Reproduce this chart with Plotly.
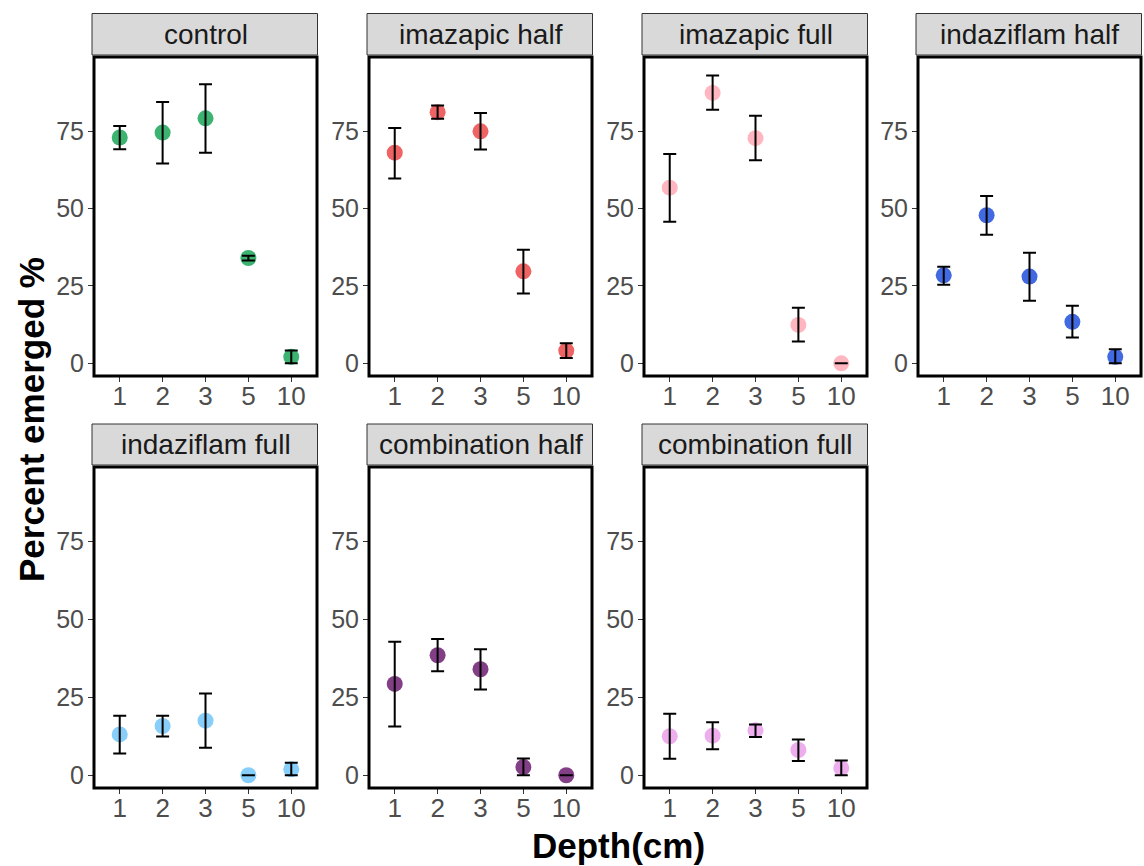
import plotly.graph_objects as go

depths = ["1", "2", "3", "5", "10"]
treatments = ["control", "imazapic half", "imazapic full", "indaziflam half",
              "indaziflam full", "combination half", "combination full"]
colors = ["#3CB371", "#EE6363", "#FFB6C1", "#4169E1", "#87CEFA", "#823F86", "#EEAEEE"]

control_mean = [72.9, 74.5, 79.1, 34.0, 2.1]
control_hi = [76.6, 84.4, 90.1, 34.7, 4.1]
control_lo = [69.1, 64.5, 68.0, 33.2, 0.0]

imaz_half_mean = [68.0, 81.1, 74.9, 29.7, 4.1]
imaz_half_hi = [76.0, 83.2, 80.8, 36.7, 6.5]
imaz_half_lo = [59.7, 79.0, 69.0, 22.5, 1.7]

imaz_full_mean = [56.7, 87.3, 72.7, 12.4, 0.0]
imaz_full_hi = [67.6, 92.9, 79.9, 17.9, 0.0]
imaz_full_lo = [45.7, 81.9, 65.6, 7.0, 0.0]

inda_half_mean = [28.4, 47.8, 28.0, 13.4, 2.1]
inda_half_hi = [31.2, 54.0, 35.7, 18.6, 4.5]
inda_half_lo = [25.4, 41.5, 20.2, 8.3, 0.0]

inda_full_mean = [13.1, 15.8, 17.5, 0.0, 1.9]
inda_full_hi = [19.1, 19.1, 26.2, 0.0, 4.0]
inda_full_lo = [7.0, 12.4, 8.8, 0.0, 0.0]

comb_half_mean = [29.3, 38.5, 34.0, 2.6, 0.0]
comb_half_hi = [42.8, 43.7, 40.4, 5.4, 0.0]
comb_half_lo = [15.6, 33.4, 27.5, 0.0, 0.0]

comb_full_mean = [12.5, 12.7, 14.4, 8.1, 2.3]
comb_full_hi = [19.7, 17.0, 16.3, 11.5, 4.7]
comb_full_lo = [5.3, 8.3, 12.3, 4.6, 0.0]

y_ticks = [0, 25, 50, 75]

series = [
    (control_mean, control_hi, control_lo),
    (imaz_half_mean, imaz_half_hi, imaz_half_lo),
    (imaz_full_mean, imaz_full_hi, imaz_full_lo),
    (inda_half_mean, inda_half_hi, inda_half_lo),
    (inda_full_mean, inda_full_hi, inda_full_lo),
    (comb_half_mean, comb_half_hi, comb_half_lo),
    (comb_full_mean, comb_full_hi, comb_full_lo),
]

W, H = 1144, 866
col_px = [(94, 317), (369, 592), (644, 867), (918, 1141)]
row_px = [(57, 376), (467, 788)]
strip_px = [(13.5, 55), (424, 465)]

FONT = "Liberation Sans, Arial, sans-serif"

fig = go.Figure()
layout = {}
shapes = []
annotations = []

for i, name in enumerate(treatments):
    r, c = divmod(i, 4)
    idx = "" if i == 0 else str(i + 1)
    xa, ya = "x" + idx, "y" + idx
    mean, hi, lo = series[i]
    plus = [h - m for h, m in zip(hi, mean)]
    minus = [m - l for m, l in zip(mean, lo)]

    fig.add_trace(go.Scatter(
        x=depths, y=mean, mode="markers", xaxis=xa, yaxis=ya,
        marker=dict(size=16, color=colors[i], line=dict(width=0)),
        showlegend=False, hoverinfo="skip"))
    fig.add_trace(go.Scatter(
        x=depths, y=mean, mode="markers", xaxis=xa, yaxis=ya,
        marker=dict(size=1, color="rgba(0,0,0,0)"),
        error_y=dict(type="data", symmetric=False, array=plus, arrayminus=minus,
                     color="black", thickness=2, width=6.5),
        showlegend=False, hoverinfo="skip"))

    x0, x1 = col_px[c]
    y0, y1 = row_px[r]
    layout["xaxis" + idx] = dict(
        domain=[x0 / W, x1 / W], anchor=ya, type="category",
        categoryorder="array", categoryarray=depths, range=[-0.6, 4.6],
        showgrid=False, zeroline=False, showline=False,
        ticks="outside", ticklen=5, tickwidth=1, tickcolor="#333333",
        ticklabelstandoff=-8,
        tickfont=dict(family=FONT, size=26, color="#4D4D4D"), fixedrange=True)
    layout["yaxis" + idx] = dict(
        domain=[1 - y1 / H, 1 - y0 / H], anchor=xa, range=[-4.1, 98.9],
        tickvals=y_ticks, showgrid=False, zeroline=False, showline=False,
        ticks="outside", ticklen=5, tickwidth=1, tickcolor="#333333",
        ticklabelstandoff=-1,
        tickfont=dict(family=FONT, size=25, color="#4D4D4D"), fixedrange=True)

    shapes.append(dict(type="rect", xref=xa + " domain", yref=ya + " domain",
                       x0=0, x1=1, y0=0, y1=1, line=dict(color="black", width=3),
                       fillcolor="rgba(0,0,0,0)", layer="above"))
    s0, s1 = strip_px[r]
    shapes.append(dict(type="rect", xref="paper", yref="paper",
                       x0=(x0 - 2) / W, x1=(x1 + 0.5) / W,
                       y0=1 - s1 / H, y1=1 - s0 / H,
                       fillcolor="#D9D9D9", line=dict(color="#333333", width=1)))
    annotations.append(dict(text=name, xref="paper", yref="paper",
                            x=(x0 + x1) / 2 / W, y=1 - (s0 + s1) / 2 / H,
                            xanchor="center", yanchor="middle", showarrow=False,
                            font=dict(family=FONT, size=28, color="#1A1A1A")))

annotations.append(dict(text="<b>Depth(cm)</b>", xref="paper", yref="paper",
                        x=618 / W, y=1 - 845 / H, xanchor="center", yanchor="middle",
                        showarrow=False, font=dict(family=FONT, size=35, color="black")))
annotations.append(dict(text="<b>Percent emerged %</b>", xref="paper", yref="paper",
                        x=31 / W, y=1 - 420 / H, xanchor="center", yanchor="middle",
                        textangle=-90, showarrow=False,
                        font=dict(family=FONT, size=35, color="black")))

fig.update_layout(
    width=W, height=H, margin=dict(l=0, r=0, t=0, b=0),
    paper_bgcolor="white", plot_bgcolor="white",
    shapes=shapes, annotations=annotations, showlegend=False,
    **layout)

fig.write_html("out.html")
